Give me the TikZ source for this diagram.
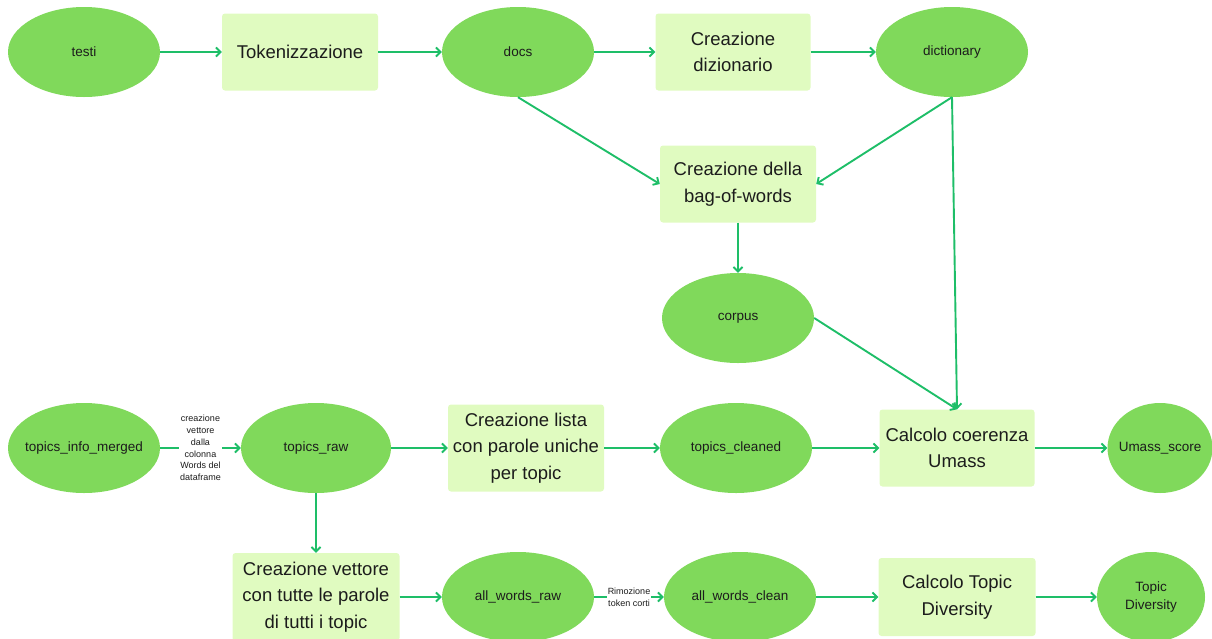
\documentclass[tikz,border=0pt]{standalone}
\usepackage{fontspec}
\setmainfont{Liberation Sans}
\usetikzlibrary{shapes.geometric,arrows.meta}

\definecolor{ovalfill}{HTML}{80D95B}
\definecolor{boxfill}{HTML}{E0FBC0}
\definecolor{flow}{HTML}{1EBE68}
\definecolor{ink}{HTML}{1C1C1C}

\tikzset{
  oval/.style={ellipse, fill=ovalfill, draw=none, inner xsep=-30pt, inner ysep=0pt,
    minimum width=152pt, minimum height=90pt, text=ink,
    font=\fontsize{13.5}{18}\selectfont, align=center},
  stepbox/.style={rectangle, rounded corners=3pt, fill=boxfill, draw=none,
    inner sep=0pt, minimum width=156pt, minimum height=77pt, text=ink,
    font=\fontsize{18.5}{26.5}\selectfont, align=center},
  note/.style={fill=white, inner sep=1pt, text=ink,
    font=\fontsize{9}{11.8}\selectfont, align=center},
  link/.style={draw=flow, line width=1.9pt,
    -{Straight Barb[length=4.5pt,width=9pt,line width=1.9pt]}},
}

\begin{document}
\begin{tikzpicture}[x=1pt,y=-1pt]
  \useasboundingbox (0,0) rectangle (1212,638);

  % top row
  \node[oval] (testi) at (84,52) {testi};
  \node[stepbox] (tok) at (300,52) {Tokenizzazione};
  \node[oval] (docs) at (518,52) {docs};
  \node[stepbox, minimum width=155pt] (dizio) at (733,52) {Creazione\\dizionario};
  \node[oval] (dict) at (952,52) {dictionary};

  % bag of words and corpus
  \node[stepbox] (bag) at (738,184) {Creazione della\\bag-of-words};
  \node[oval] (corpus) at (738,318) {corpus};

  % topics row
  \node[oval] (tim) at (84,448) {topics\_info\_merged};
  \node[oval, minimum width=150pt] (raw) at (316,448) {topics\_raw};
  \node[stepbox, minimum height=87pt] (lista) at (526,448) {Creazione lista\\con parole uniche\\per topic};
  \node[oval] (cleaned) at (736,448) {topics\_cleaned};
  \node[stepbox, minimum width=155pt] (calc) at (957,448) {Calcolo coerenza\\Umass};
  \node[oval, minimum width=105pt] (umass) at (1160,448) {Umass\_score};

  % diversity row
  \node[stepbox, minimum width=167pt, minimum height=88pt] (vett) at (316,597) {Creazione vettore\\con tutte le parole\\di tutti i topic};
  \node[oval] (awr) at (518,597) {all\_words\_raw};
  \node[oval] (awc) at (740,597) {all\_words\_clean};
  \node[stepbox, minimum width=157pt, minimum height=78pt] (ctd) at (957,597) {Calcolo Topic\\Diversity};
  \node[oval, minimum width=108pt] (td) at (1151,597) {Topic\\Diversity};

  % connectors
  \draw[link] (testi) -- (tok);
  \draw[link] (tok) -- (docs);
  \draw[link] (docs) -- (dizio);
  \draw[link] (dizio) -- (dict);
  \draw[link] (docs.south) -- (bag.west);
  \draw[link] (dict.south) -- (bag.east);
  \draw[link] (dict.south) -- (calc.north);
  \draw[link] (bag) -- (corpus);
  \draw[link] (corpus.east) -- (calc.north);

  \draw[link] (tim) -- node[note] {creazione\\vettore\\dalla\\colonna\\Words del\\dataframe} (raw);
  \draw[link] (raw) -- (lista);
  \draw[link] (lista) -- (cleaned);
  \draw[link] (cleaned) -- (calc);
  \draw[link] (calc) -- (umass);

  \draw[link] (raw) -- (vett);
  \draw[link] (vett) -- (awr);
  \draw[link] (awr) -- node[note] {Rimozione\\token corti} (awc);
  \draw[link] (awc) -- (ctd);
  \draw[link] (ctd) -- (td);
\end{tikzpicture}
\end{document}
